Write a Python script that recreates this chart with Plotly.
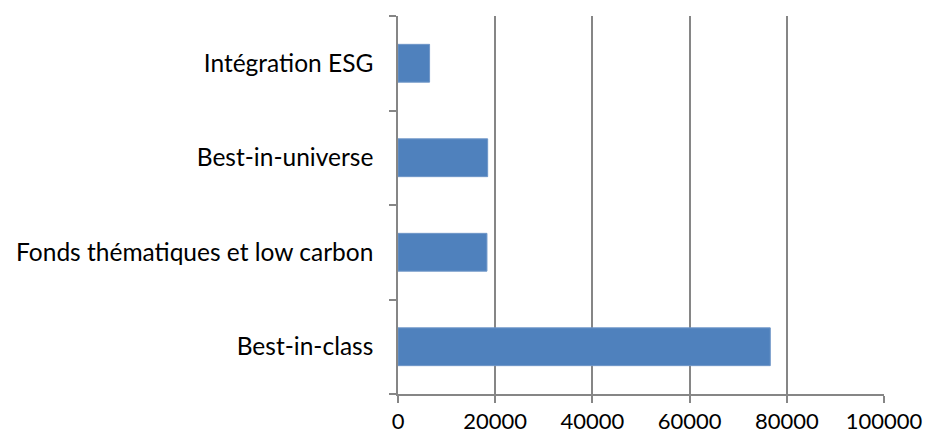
import plotly.graph_objects as go

# Encours par approche ISR (bottom to top)
categories = ["Best-in-class", "Fonds thématiques et low carbon", "Best-in-universe", "Intégration ESG"]
values = [76600, 18300, 18450, 6500]
x_ticks = [0, 20000, 40000, 60000, 80000, 100000]

grid_color = "#868686"
font_family = "Lato, Carlito, Calibri, sans-serif"

fig = go.Figure(
    go.Bar(
        y=categories,
        x=values,
        orientation="h",
        marker=dict(color="#4F81BD", line=dict(color="#6F96C8", width=1)),
        width=0.4,
    )
)

fig.update_layout(
    width=927,
    height=437,
    margin=dict(l=398, r=43, t=16, b=43, autoexpand=False),
    paper_bgcolor="white",
    plot_bgcolor="white",
    showlegend=False,
    font=dict(family=font_family, color="#000000", size=20),
    xaxis=dict(
        range=[0, 100000],
        tickvals=x_ticks,
        ticktext=[str(v) for v in x_ticks],
        showgrid=True,
        gridcolor=grid_color,
        gridwidth=1.5,
        showline=True,
        linecolor=grid_color,
        linewidth=1.5,
        ticks="outside",
        ticklen=7,
        tickcolor=grid_color,
        tickwidth=1.5,
        tickfont=dict(size=22),
        ticklabelstandoff=0,
        automargin=False,
        zeroline=False,
        fixedrange=True,
    ),
    yaxis=dict(
        categoryorder="array",
        categoryarray=categories,
        showgrid=False,
        showline=True,
        linecolor=grid_color,
        linewidth=1.5,
        ticks="outside",
        tickson="boundaries",
        ticklen=7,
        tickcolor=grid_color,
        tickwidth=1.5,
        tickfont=dict(size=24.5),
        ticklabelstandoff=18,
        automargin=False,
        fixedrange=True,
    ),
)

fig.write_html("out.html")
